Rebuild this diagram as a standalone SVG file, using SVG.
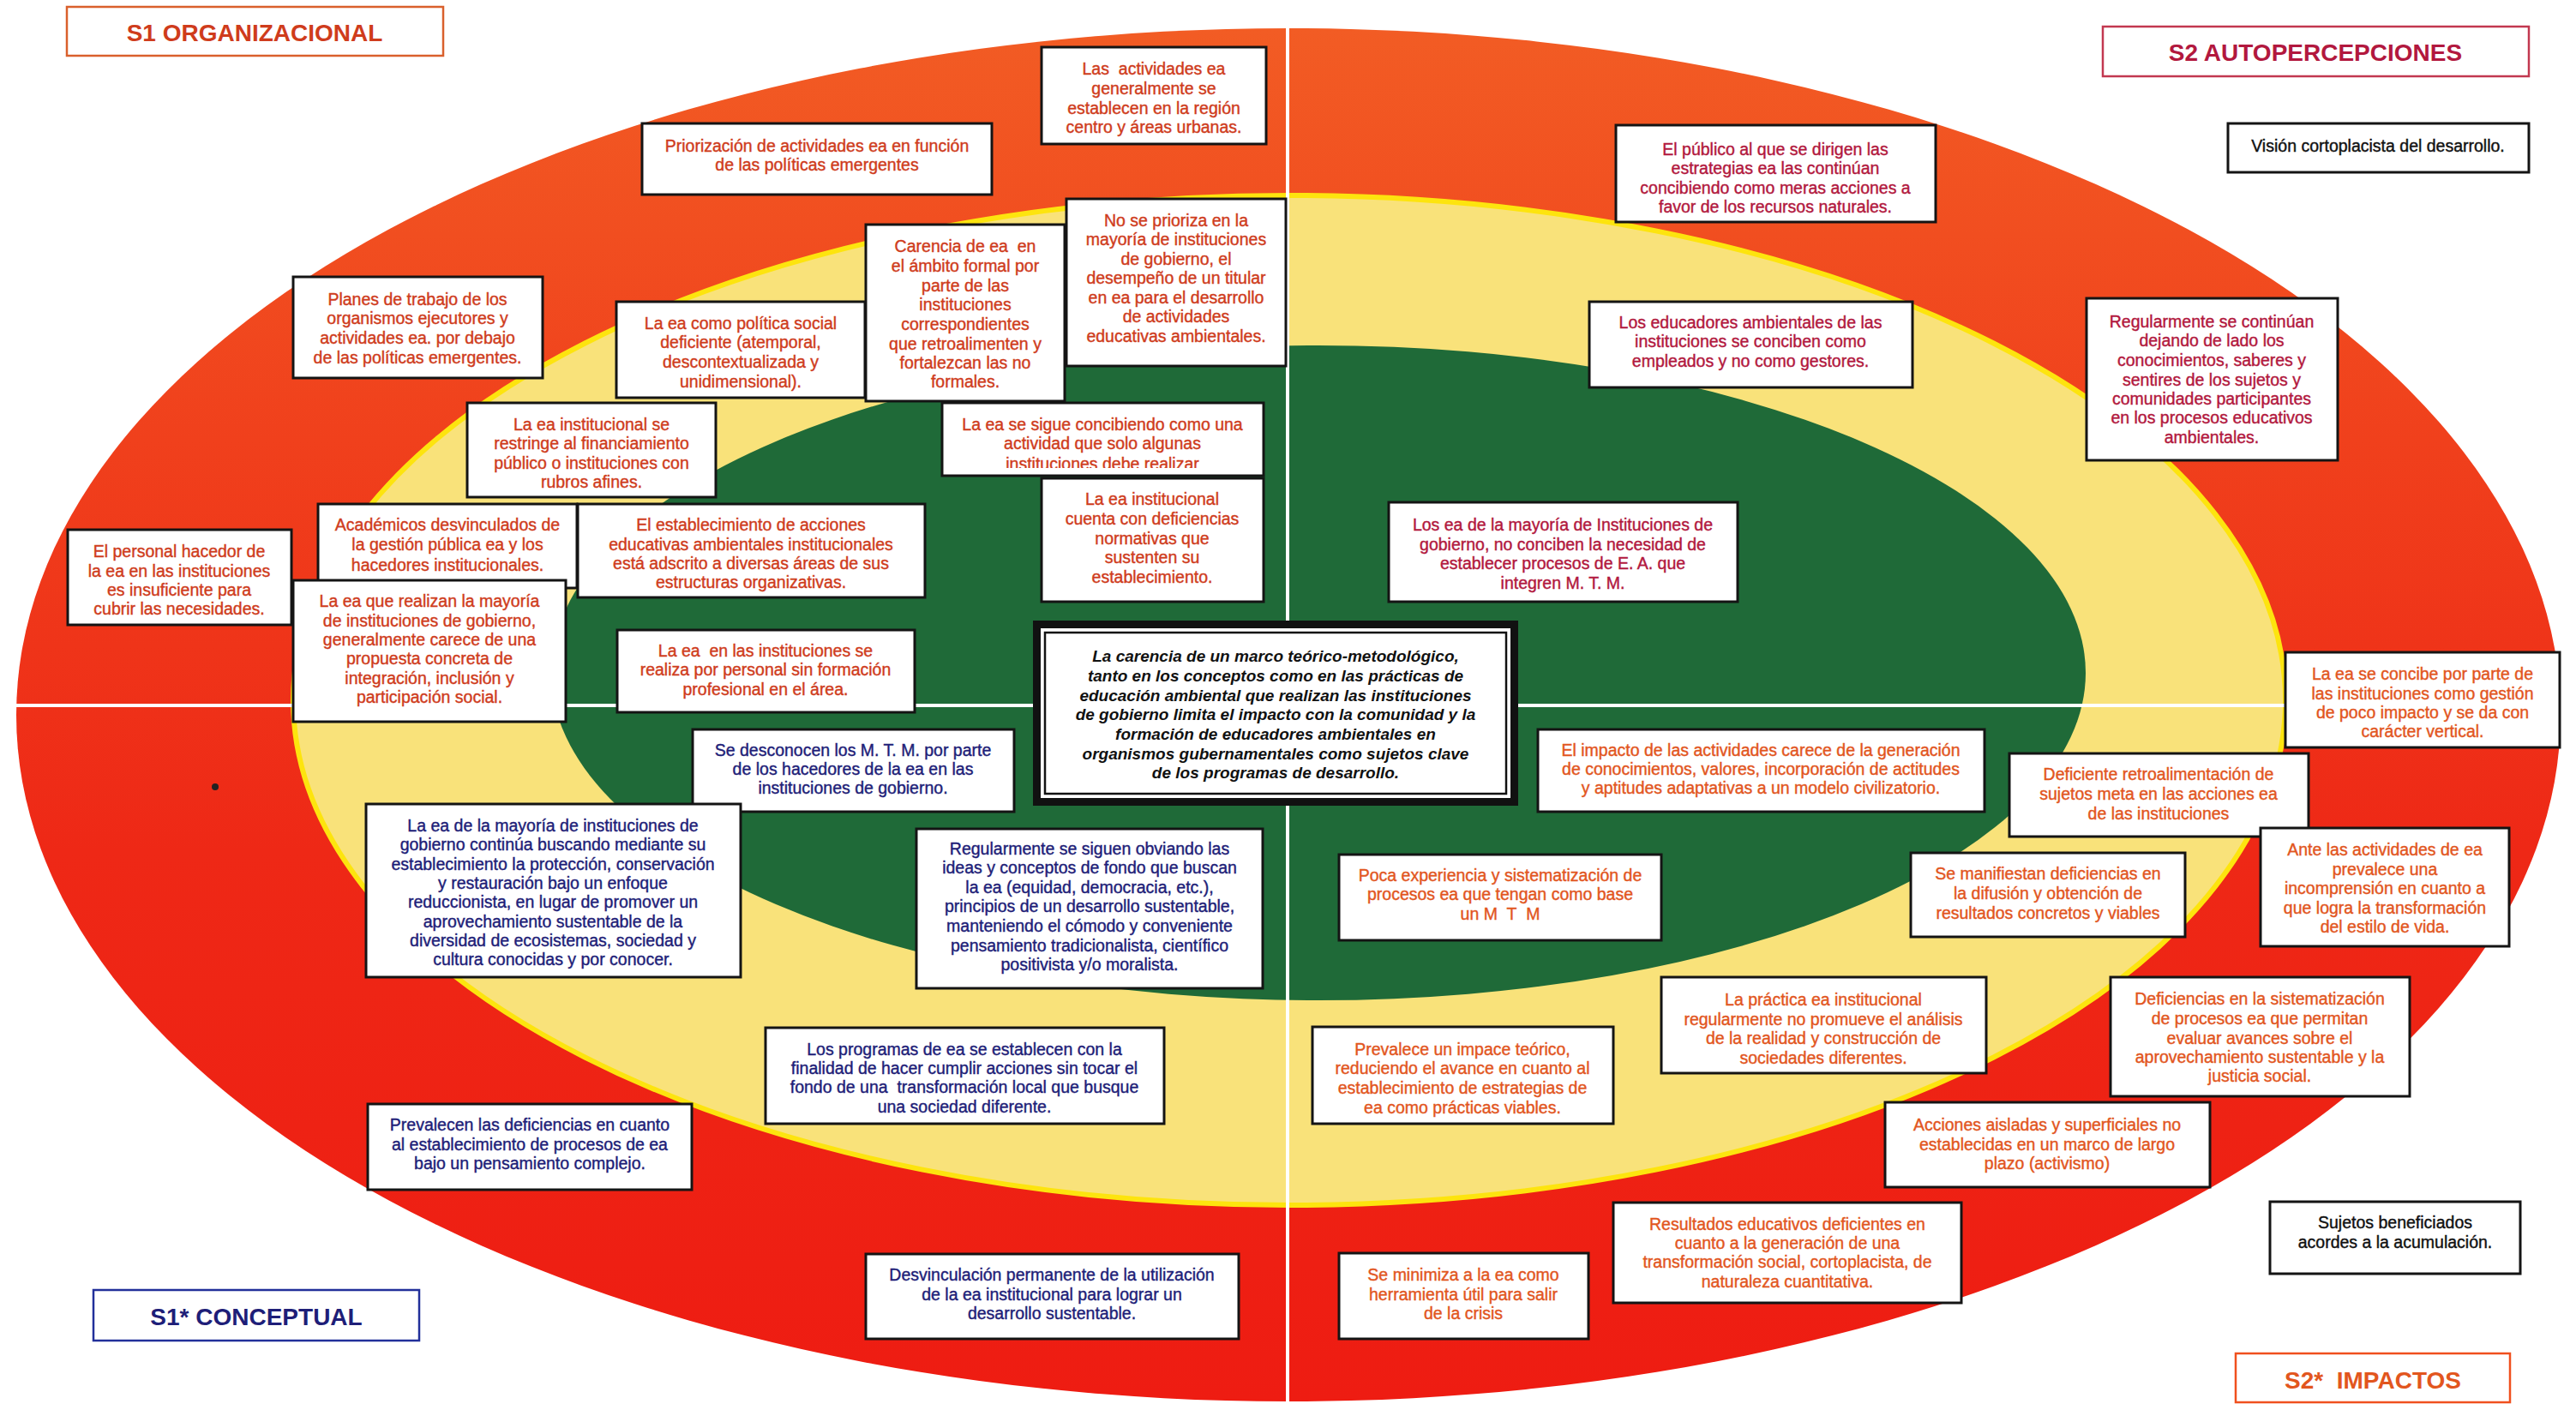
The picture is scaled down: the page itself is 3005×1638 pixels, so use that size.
<svg xmlns="http://www.w3.org/2000/svg" width="3005" height="1638" viewBox="0 0 3005 1638">
  <defs>
    <linearGradient id="redRing" x1="0" y1="0" x2="0" y2="1">
      <stop offset="0" stop-color="#f25c24"/>
      <stop offset="0.3" stop-color="#f0401c"/>
      <stop offset="0.6" stop-color="#ee2816"/>
      <stop offset="1" stop-color="#ee1c12"/>
    </linearGradient>
    <clipPath id="clipSigue">
      <rect x="1099" y="470" width="375" height="76"/>
    </clipPath>
    <style>
      .bx { fill:#ffffff; stroke:#141414; stroke-width:3; }
      .t { font-family:"Liberation Sans", Arial, Helvetica, sans-serif; font-size:19.5px; text-anchor:middle; stroke-width:0.4px; }
      .hd { font-family:"Liberation Sans", Arial, Helvetica, sans-serif; font-size:28px; font-weight:bold; text-anchor:middle; }
      .org { fill:#cf3c1c; stroke:#cf3c1c; }
      .imp { fill:#e2561e; stroke:#e2561e; }
      .aut { fill:#b2183e; stroke:#b2183e; }
      .con { fill:#1e1e78; stroke:#1e1e78; }
      .blk { fill:#111111; stroke:#111111; }
      .hd.org, .hd.imp, .hd.aut, .hd.con { stroke:none; }
      .ctr { font-family:"Liberation Sans", Arial, Helvetica, sans-serif; font-size:19px; font-weight:bold; font-style:italic; text-anchor:middle; fill:#111111; }
      .axis { stroke:#ffffff; stroke-width:4; fill:none; }
    </style>
  </defs>

  <rect width="3005" height="1638" fill="#ffffff"/>

  <!-- concentric rings -->
  <g id="rings">
    <ellipse cx="1503" cy="834" rx="1484" ry="801" fill="url(#redRing)"/>
    <ellipse cx="1504" cy="817" rx="1162" ry="589" fill="#f9e27a" stroke="#fde40e" stroke-width="6"/>
    <ellipse cx="1538" cy="785" rx="895" ry="382" fill="#1f6a38"/>
    <circle cx="251" cy="918" r="4" fill="#222"/>
  </g>

  <!-- quadrant dividers -->
  <g id="connectors">
    <line class="axis" x1="19" y1="823" x2="2988" y2="823"/>
    <line class="axis" x1="1502" y1="33" x2="1502" y2="1638"/>
  </g>

  <!-- quadrant headers -->
  <g id="hdr-s1">
    <rect x="78" y="8" width="439" height="57" fill="#fff" stroke="#d9602c" stroke-width="2.5"/>
    <text class="hd org" x="297" y="48">S1 ORGANIZACIONAL</text>
  </g>
  <g id="hdr-s2">
    <rect x="2453" y="31" width="497" height="58" fill="#fff" stroke="#c23850" stroke-width="2.5"/>
    <text class="hd aut" x="2701" y="71">S2 AUTOPERCEPCIONES</text>
  </g>
  <g id="hdr-s1c">
    <rect x="109" y="1505" width="380" height="59" fill="#fff" stroke="#22309a" stroke-width="2.5"/>
    <text class="hd con" x="299" y="1546">S1* CONCEPTUAL</text>
  </g>
  <g id="hdr-s2i">
    <rect x="2608" y="1579" width="320" height="57" fill="#fff" stroke="#f0501e" stroke-width="2.5"/>
    <text class="hd imp" x="2768" y="1620">S2*&#160; IMPACTOS</text>
  </g>

  <!-- S1 organizacional -->
  <g id="n-actividades">
    <rect class="bx" x="1215" y="55" width="262" height="113"/>
    <text class="t org"><tspan x="1346" y="87">Las&#160; actividades ea</tspan><tspan x="1346" y="110">generalmente se</tspan><tspan x="1346" y="133">establecen en la región</tspan><tspan x="1346" y="155">centro y áreas urbanas.</tspan></text>
  </g>
  <g id="n-priorizacion">
    <rect class="bx" x="749" y="144" width="408" height="83"/>
    <text class="t org"><tspan x="953" y="177">Priorización de actividades ea en función</tspan><tspan x="953" y="199">de las políticas emergentes</tspan></text>
  </g>
  <g id="n-planes">
    <rect class="bx" x="342" y="323" width="291" height="118"/>
    <text class="t org"><tspan x="487" y="356">Planes de trabajo de los</tspan><tspan x="487" y="378">organismos ejecutores y</tspan><tspan x="487" y="401">actividades ea. por debajo</tspan><tspan x="487" y="424">de las políticas emergentes.</tspan></text>
  </g>
  <g id="n-noprioriza">
    <rect class="bx" x="1244" y="232" width="256" height="195"/>
    <text class="t org"><tspan x="1372" y="264">No se prioriza en la</tspan><tspan x="1372" y="286">mayoría de instituciones</tspan><tspan x="1372" y="309">de gobierno, el</tspan><tspan x="1372" y="331">desempeño de un titular</tspan><tspan x="1372" y="354">en ea para el desarrollo</tspan><tspan x="1372" y="376">de actividades</tspan><tspan x="1372" y="399">educativas ambientales.</tspan></text>
  </g>
  <g id="n-carencia">
    <rect class="bx" x="1010" y="262" width="232" height="206"/>
    <text class="t org"><tspan x="1126" y="294">Carencia de ea&#160; en</tspan><tspan x="1126" y="317">el ámbito formal por</tspan><tspan x="1126" y="340">parte de las</tspan><tspan x="1126" y="362">instituciones</tspan><tspan x="1126" y="385">correspondientes</tspan><tspan x="1126" y="408">que retroalimenten y</tspan><tspan x="1126" y="430">fortalezcan las no</tspan><tspan x="1126" y="452">formales.</tspan></text>
  </g>
  <g id="n-politica">
    <rect class="bx" x="719" y="352" width="290" height="112"/>
    <text class="t org"><tspan x="864" y="384">La ea como política social</tspan><tspan x="864" y="406">deficiente (atemporal,</tspan><tspan x="864" y="429">descontextualizada y</tspan><tspan x="864" y="452">unidimensional).</tspan></text>
  </g>
  <g id="n-restringe">
    <rect class="bx" x="545" y="470" width="290" height="110"/>
    <text class="t org"><tspan x="690" y="502">La ea institucional se</tspan><tspan x="690" y="524">restringe al financiamiento</tspan><tspan x="690" y="547">público o instituciones con</tspan><tspan x="690" y="569">rubros afines.</tspan></text>
  </g>
  <g id="n-sigue">
    <rect class="bx" x="1099" y="470" width="375" height="85"/>
    <text class="t org" clip-path="url(#clipSigue)"><tspan x="1286" y="502">La ea se sigue concibiendo como una</tspan><tspan x="1286" y="524">actividad que solo algunas</tspan><tspan x="1286" y="548">instituciones debe realizar</tspan></text>
  </g>
  <g id="n-academicos">
    <rect class="bx" x="371" y="588" width="302" height="98"/>
    <text class="t org"><tspan x="522" y="619">Académicos desvinculados de</tspan><tspan x="522" y="642">la gestión pública ea y los</tspan><tspan x="522" y="666">hacedores institucionales.</tspan></text>
  </g>
  <g id="n-establecimiento">
    <rect class="bx" x="674" y="588" width="405" height="109"/>
    <text class="t org"><tspan x="876" y="619">El establecimiento de acciones</tspan><tspan x="876" y="642">educativas ambientales institucionales</tspan><tspan x="876" y="664">está adscrito a diversas áreas de sus</tspan><tspan x="876" y="686">estructuras organizativas.</tspan></text>
  </g>
  <g id="n-normativas">
    <rect class="bx" x="1215" y="558" width="259" height="144"/>
    <text class="t org"><tspan x="1344" y="589">La ea institucional</tspan><tspan x="1344" y="612">cuenta con deficiencias</tspan><tspan x="1344" y="635">normativas que</tspan><tspan x="1344" y="657">sustenten su</tspan><tspan x="1344" y="680">establecimiento.</tspan></text>
  </g>
  <g id="n-personal">
    <rect class="bx" x="79" y="618" width="261" height="111"/>
    <text class="t org"><tspan x="209" y="650">El personal hacedor de</tspan><tspan x="209" y="673">la ea en las instituciones</tspan><tspan x="209" y="695">es insuficiente para</tspan><tspan x="209" y="717">cubrir las necesidades.</tspan></text>
  </g>
  <g id="n-realizan">
    <rect class="bx" x="342" y="677" width="318" height="165"/>
    <text class="t org"><tspan x="501" y="708">La ea que realizan la mayoría</tspan><tspan x="501" y="731">de instituciones de gobierno,</tspan><tspan x="501" y="753">generalmente carece de una</tspan><tspan x="501" y="775">propuesta concreta de</tspan><tspan x="501" y="798">integración, inclusión y</tspan><tspan x="501" y="820">participación social.</tspan></text>
  </g>
  <g id="n-sinformacion">
    <rect class="bx" x="720" y="735" width="347" height="96"/>
    <text class="t org"><tspan x="893" y="766">La ea&#160; en las instituciones se</tspan><tspan x="893" y="788">realiza por personal sin formación</tspan><tspan x="893" y="811">profesional en el área.</tspan></text>
  </g>

  <!-- central statement -->
  <g id="n-centro">
    <rect x="1205" y="724" width="566" height="216" fill="#111"/>
    <rect x="1214" y="733" width="548" height="198" fill="#fff"/>
    <rect x="1219" y="738" width="538" height="188" fill="#fff" stroke="#111" stroke-width="2.5"/>
    <text class="ctr"><tspan x="1488" y="772">La carencia de un marco teórico-metodológico,</tspan><tspan x="1488" y="795">tanto en los conceptos como en las prácticas de</tspan><tspan x="1488" y="818">educación ambiental que realizan las instituciones</tspan><tspan x="1488" y="840">de gobierno limita el impacto con la comunidad y la</tspan><tspan x="1488" y="863">formación de educadores ambientales en</tspan><tspan x="1488" y="886">organismos gubernamentales como sujetos clave</tspan><tspan x="1488" y="908">de los programas de desarrollo.</tspan></text>
  </g>

  <!-- S1* conceptual -->
  <g id="n-desconocen">
    <rect class="bx" x="808" y="851" width="375" height="96"/>
    <text class="t con"><tspan x="995" y="882">Se desconocen los M. T. M. por parte</tspan><tspan x="995" y="904">de los hacedores de la ea en las</tspan><tspan x="995" y="926">instituciones de gobierno.</tspan></text>
  </g>
  <g id="n-mayoria">
    <rect class="bx" x="427" y="938" width="437" height="202"/>
    <text class="t con"><tspan x="645" y="970">La ea de la mayoría de instituciones de</tspan><tspan x="645" y="992">gobierno continúa buscando mediante su</tspan><tspan x="645" y="1015">establecimiento la protección, conservación</tspan><tspan x="645" y="1037">y restauración bajo un enfoque</tspan><tspan x="645" y="1059">reduccionista, en lugar de promover un</tspan><tspan x="645" y="1082">aprovechamiento sustentable de la</tspan><tspan x="645" y="1104">diversidad de ecosistemas, sociedad y</tspan><tspan x="645" y="1126">cultura conocidas y por conocer.</tspan></text>
  </g>
  <g id="n-obviando">
    <rect class="bx" x="1069" y="967" width="404" height="186"/>
    <text class="t con"><tspan x="1271" y="997">Regularmente se siguen obviando las</tspan><tspan x="1271" y="1019">ideas y conceptos de fondo que buscan</tspan><tspan x="1271" y="1042">la ea (equidad, democracia, etc.),</tspan><tspan x="1271" y="1064">principios de un desarrollo sustentable,</tspan><tspan x="1271" y="1087">manteniendo el cómodo y conveniente</tspan><tspan x="1271" y="1110">pensamiento tradicionalista, científico</tspan><tspan x="1271" y="1132">positivista y/o moralista.</tspan></text>
  </g>
  <g id="n-programas">
    <rect class="bx" x="893" y="1199" width="465" height="112"/>
    <text class="t con"><tspan x="1125" y="1231">Los programas de ea se establecen con la</tspan><tspan x="1125" y="1253">finalidad de hacer cumplir acciones sin tocar el</tspan><tspan x="1125" y="1275">fondo de una&#160; transformación local que busque</tspan><tspan x="1125" y="1298">una sociedad diferente.</tspan></text>
  </g>
  <g id="n-prevalecen">
    <rect class="bx" x="429" y="1288" width="378" height="100"/>
    <text class="t con"><tspan x="618" y="1319">Prevalecen las deficiencias en cuanto</tspan><tspan x="618" y="1342">al establecimiento de procesos de ea</tspan><tspan x="618" y="1364">bajo un pensamiento complejo.</tspan></text>
  </g>
  <g id="n-desvinculacion">
    <rect class="bx" x="1010" y="1463" width="435" height="99"/>
    <text class="t con"><tspan x="1227" y="1494">Desvinculación permanente de la utilización</tspan><tspan x="1227" y="1517">de la ea institucional para lograr un</tspan><tspan x="1227" y="1539">desarrollo sustentable.</tspan></text>
  </g>

  <!-- S2 autopercepciones -->
  <g id="n-vision">
    <rect class="bx" x="2599" y="144" width="351" height="57"/>
    <text class="t blk"><tspan x="2774" y="177">Visión cortoplacista del desarrollo.</tspan></text>
  </g>
  <g id="n-publico">
    <rect class="bx" x="1885" y="146" width="373" height="113"/>
    <text class="t aut"><tspan x="2071" y="181">El público al que se dirigen las</tspan><tspan x="2071" y="203">estrategias ea las continúan</tspan><tspan x="2071" y="226">concibiendo como meras acciones a</tspan><tspan x="2071" y="248">favor de los recursos naturales.</tspan></text>
  </g>
  <g id="n-educadores">
    <rect class="bx" x="1854" y="352" width="377" height="100"/>
    <text class="t aut"><tspan x="2042" y="383">Los educadores ambientales de las</tspan><tspan x="2042" y="405">instituciones se conciben como</tspan><tspan x="2042" y="428">empleados y no como gestores.</tspan></text>
  </g>
  <g id="n-saberes">
    <rect class="bx" x="2434" y="348" width="293" height="189"/>
    <text class="t aut"><tspan x="2580" y="382">Regularmente se continúan</tspan><tspan x="2580" y="404">dejando de lado los</tspan><tspan x="2580" y="427">conocimientos, saberes y</tspan><tspan x="2580" y="450">sentires de los sujetos y</tspan><tspan x="2580" y="472">comunidades participantes</tspan><tspan x="2580" y="494">en los procesos educativos</tspan><tspan x="2580" y="517">ambientales.</tspan></text>
  </g>
  <g id="n-mtm">
    <rect class="bx" x="1620" y="586" width="407" height="116"/>
    <text class="t aut"><tspan x="1823" y="619">Los ea de la mayoría de Instituciones de</tspan><tspan x="1823" y="642">gobierno, no conciben la necesidad de</tspan><tspan x="1823" y="664">establecer procesos de E. A. que</tspan><tspan x="1823" y="687">integren M. T. M.</tspan></text>
  </g>

  <!-- S2* impactos -->
  <g id="n-vertical">
    <rect class="bx" x="2666" y="761" width="320" height="111"/>
    <text class="t imp"><tspan x="2826" y="793">La ea se concibe por parte de</tspan><tspan x="2826" y="816">las instituciones como gestión</tspan><tspan x="2826" y="838">de poco impacto y se da con</tspan><tspan x="2826" y="860">carácter vertical.</tspan></text>
  </g>
  <g id="n-impacto">
    <rect class="bx" x="1794" y="851" width="521" height="96"/>
    <text class="t imp"><tspan x="2054" y="882">El impacto de las actividades carece de la generación</tspan><tspan x="2054" y="904">de conocimientos, valores, incorporación de actitudes</tspan><tspan x="2054" y="926">y aptitudes adaptativas a un modelo civilizatorio.</tspan></text>
  </g>
  <g id="n-retro">
    <rect class="bx" x="2344" y="879" width="349" height="97"/>
    <text class="t imp"><tspan x="2518" y="910">Deficiente retroalimentación de</tspan><tspan x="2518" y="933">sujetos meta en las acciones ea</tspan><tspan x="2518" y="956">de las instituciones</tspan></text>
  </g>
  <g id="n-experiencia">
    <rect class="bx" x="1562" y="997" width="376" height="100"/>
    <text class="t imp"><tspan x="1750" y="1028">Poca experiencia y sistematización de</tspan><tspan x="1750" y="1050">procesos ea que tengan como base</tspan><tspan x="1750" y="1073">un M&#160; T&#160; M</tspan></text>
  </g>
  <g id="n-difusion">
    <rect class="bx" x="2229" y="995" width="320" height="98"/>
    <text class="t imp"><tspan x="2389" y="1026">Se manifiestan deficiencias en</tspan><tspan x="2389" y="1049">la difusión y obtención de</tspan><tspan x="2389" y="1072">resultados concretos y viables</tspan></text>
  </g>
  <g id="n-estilo">
    <rect class="bx" x="2637" y="966" width="290" height="138"/>
    <text class="t imp"><tspan x="2782" y="998">Ante las actividades de ea</tspan><tspan x="2782" y="1021">prevalece una</tspan><tspan x="2782" y="1043">incomprensión en cuanto a</tspan><tspan x="2782" y="1066">que logra la transformación</tspan><tspan x="2782" y="1088">del estilo de vida.</tspan></text>
  </g>
  <g id="n-practica">
    <rect class="bx" x="1938" y="1140" width="379" height="112"/>
    <text class="t imp"><tspan x="2127" y="1173">La práctica ea institucional</tspan><tspan x="2127" y="1196">regularmente no promueve el análisis</tspan><tspan x="2127" y="1218">de la realidad y construcción de</tspan><tspan x="2127" y="1241">sociedades diferentes.</tspan></text>
  </g>
  <g id="n-impace">
    <rect class="bx" x="1531" y="1198" width="351" height="113"/>
    <text class="t imp"><tspan x="1706" y="1231">Prevalece un impace teórico,</tspan><tspan x="1706" y="1253">reduciendo el avance en cuanto al</tspan><tspan x="1706" y="1276">establecimiento de estrategias de</tspan><tspan x="1706" y="1299">ea como prácticas viables.</tspan></text>
  </g>
  <g id="n-sistematizacion">
    <rect class="bx" x="2462" y="1140" width="349" height="139"/>
    <text class="t imp"><tspan x="2636" y="1172">Deficiencias en la sistematización</tspan><tspan x="2636" y="1195">de procesos ea que permitan</tspan><tspan x="2636" y="1218">evaluar avances sobre el</tspan><tspan x="2636" y="1240">aprovechamiento sustentable y la</tspan><tspan x="2636" y="1262">justicia social.</tspan></text>
  </g>
  <g id="n-activismo">
    <rect class="bx" x="2199" y="1286" width="379" height="99"/>
    <text class="t imp"><tspan x="2388" y="1319">Acciones aisladas y superficiales no</tspan><tspan x="2388" y="1342">establecidas en un marco de largo</tspan><tspan x="2388" y="1364">plazo (activismo)</tspan></text>
  </g>
  <g id="n-resultados">
    <rect class="bx" x="1882" y="1403" width="406" height="117"/>
    <text class="t imp"><tspan x="2085" y="1435">Resultados educativos deficientes en</tspan><tspan x="2085" y="1457">cuanto a la generación de una</tspan><tspan x="2085" y="1479">transformación social, cortoplacista, de</tspan><tspan x="2085" y="1502">naturaleza cuantitativa.</tspan></text>
  </g>
  <g id="n-crisis">
    <rect class="bx" x="1562" y="1462" width="291" height="100"/>
    <text class="t imp"><tspan x="1707" y="1494">Se minimiza a la ea como</tspan><tspan x="1707" y="1517">herramienta útil para salir</tspan><tspan x="1707" y="1539">de la crisis</tspan></text>
  </g>
  <g id="n-sujetos">
    <rect class="bx" x="2648" y="1402" width="292" height="84"/>
    <text class="t blk"><tspan x="2794" y="1433">Sujetos beneficiados</tspan><tspan x="2794" y="1456">acordes a la acumulación.</tspan></text>
  </g>
</svg>
